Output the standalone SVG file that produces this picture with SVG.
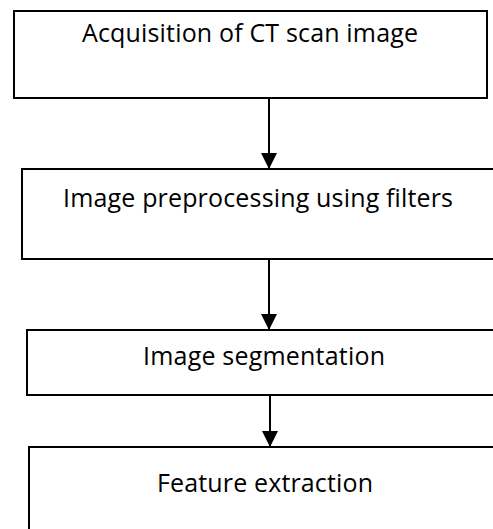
<svg xmlns="http://www.w3.org/2000/svg" width="493" height="529" viewBox="0 0 493 529">
<style>
.box{fill:#fff;stroke:#000;stroke-width:2}
.lbl{font-family:"Open Sans","Liberation Sans",sans-serif;font-size:25px;fill:#000;text-anchor:middle}
.conn{stroke:#000;stroke-width:2;fill:none}
</style>
<defs>
<marker id="ah" markerUnits="userSpaceOnUse" markerWidth="18" markerHeight="16" refX="16" refY="8" orient="auto">
<path d="M0,0 L16,8 L0,16 Z" fill="#000"/>
</marker>
</defs>
<rect width="493" height="529" fill="#fff"/>
<g id="connectors">
<line class="conn" x1="269" y1="98" x2="269" y2="169" marker-end="url(#ah)"/>
<line class="conn" x1="269" y1="259" x2="269" y2="330" marker-end="url(#ah)"/>
<line class="conn" x1="270" y1="395" x2="270" y2="447" marker-end="url(#ah)"/>
</g>
<g id="node1">
<rect class="box" x="14" y="11" width="473" height="87"/>
<text class="lbl" x="250" y="42" textLength="336">Acquisition of CT scan image</text>
</g>
<g id="node2">
<rect class="box" x="22" y="169" width="480" height="90"/>
<text class="lbl" x="258" y="207" textLength="390">Image preprocessing using filters</text>
</g>
<g id="node3">
<rect class="box" x="27" y="330" width="475" height="65"/>
<text class="lbl" x="264" y="365" textLength="242">Image segmentation</text>
</g>
<g id="node4">
<rect class="box" x="29" y="447" width="473" height="100"/>
<text class="lbl" x="265" y="492" textLength="216">Feature extraction</text>
</g>
</svg>
